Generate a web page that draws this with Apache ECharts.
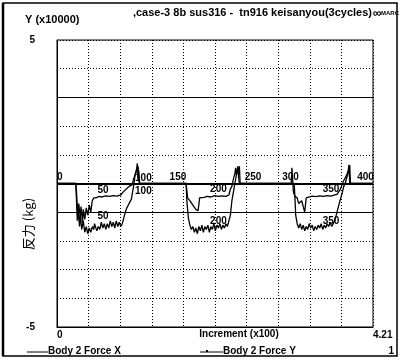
<!DOCTYPE html>
<html><head><meta charset="utf-8">
<script src="https://cdn.jsdelivr.net/npm/echarts@6/dist/echarts.min.js"></script>
<style>html,body{margin:0;padding:0;background:#fff}#c{width:400px;height:359px}</style>
</head><body><div id="c"></div>
<script>
// Increments (raw, x1) and forces (x10000)
var incX = [0,25,26,27,28,29,31,32,34,35,37,39,41,43,45,47,49,50,52,56,60,65,70,75,80,85,88,90,92,94,96,98,100,102,104,106,108,109,110,
  172,174,177,181,185,188,190,192,196,200,205,210,215,220,225,229,231,233,235,237,238,239,241,242,243,
  312,313,315,317,320,322,324,326,328,329,330,332,334,340,345,350,355,360,365,370,373,375,377,379,381,383,386,388,389,390,421];
var forceX = [0,0,-0.3,-0.8,-1.1,-0.7,-1.2,-0.8,-1.35,-0.9,-1.25,-0.85,-1.1,-0.75,-1.0,-0.6,-0.5,-0.48,-0.5,-0.45,-0.47,-0.43,-0.45,-0.42,-0.44,-0.4,-0.3,-0.35,-0.2,-0.2,-0.1,-0.08,-0.05,0.15,0.3,0.45,0.6,0.1,0,
  0,-0.5,-0.6,-0.75,-0.9,-0.95,-0.5,-0.45,-0.48,-0.45,-0.47,-0.42,-0.45,-0.43,-0.45,-0.4,-0.2,-0.1,0.15,0.35,0.55,0.3,0.6,0.2,0,
  0,0.55,-0.3,-0.45,-0.5,-0.7,-0.68,-0.6,-0.64,-0.9,-1.0,-0.5,-0.47,-0.44,-0.46,-0.43,-0.45,-0.42,-0.44,-0.4,-0.38,-0.3,-0.23,-0.1,0.05,0.15,0.3,0.45,0.65,0,0];
var incY = [0,25,26,27,28,30,31,33,35,37,39,41,43,45,47,49,50,51,53,55,57,59,61,63,65,67,69,71,73,75,77,79,81,83,85,87,89,91,93,95,97,99,100,102,104,106,107,108,109,110,
  172,173,175,177,179,181,183,185,187,189,191,193,195,197,199,200,201,203,205,207,209,211,213,215,217,219,221,223,225,227,229,231,233,235,237,239,241,243,244,
  316,317,318,320,322,324,326,328,330,332,334,336,338,340,342,344,346,348,350,352,354,356,358,360,362,364,366,368,370,372,374,377,380,382,384,386,388,390,391,421];
var forceY = [0,0,-0.6,-1.3,-0.9,-1.5,-1.1,-1.6,-1.3,-1.7,-1.5,-1.75,-1.55,-1.7,-1.5,-1.6,-1.4,-1.45,-1.65,-1.5,-1.6,-1.35,-1.55,-1.4,-1.6,-1.4,-1.55,-1.3,-1.5,-1.35,-1.55,-1.3,-1.5,-1.35,-1.5,-1.4,-1.2,-1.0,-0.85,-0.75,-0.65,-0.55,-0.5,-0.1,0.3,0.5,0.7,0.2,0.45,0,
  0,-0.6,-1.2,-1.45,-1.6,-1.5,-1.7,-1.55,-1.75,-1.5,-1.65,-1.45,-1.7,-1.5,-1.6,-1.55,-1.45,-1.7,-1.5,-1.6,-1.4,-1.65,-1.45,-1.55,-1.4,-1.6,-1.45,-1.55,-1.4,-1.5,-1.3,-1.1,-0.6,-0.3,0.0,0.3,0.45,0.6,0,
  0,-0.5,-1.1,-1.4,-1.55,-1.4,-1.6,-1.45,-1.65,-1.5,-1.6,-1.4,-1.55,-1.45,-1.65,-1.5,-1.6,-1.45,-1.55,-1.4,-1.6,-1.45,-1.55,-1.4,-1.5,-1.35,-1.5,-1.4,-1.3,-1.1,-0.9,-0.6,-0.33,-0.1,0.0,0.2,0.37,0.64,0,0];
// Increment labels drawn along each curve
var labelsX = [0,50,100,150,200,250,300,350,400];
var labelsY = [50,100,200,350];
var yTickLabels = ['-5','5'];
var xTickLabels = ['0','4.21'];
var titleText = ',case-3 8b sus316 -  tn916 keisanyou(3cycles)';
var legendNames = ['Body 2 Force X','Body 2 Force Y'];

var FONT = '"Liberation Sans", Arial, sans-serif';
function pts(inc, val){ return inc.map(function(v,i){ return [v/100, val[i]]; }); }
function valueAt(inc, val, k){ var r = 0; for (var i=0;i<inc.length;i++){ if (inc[i] <= k) r = val[i]; } return r; }
function marks(inc, val, list){
  return list.map(function(k){
    var v = valueAt(inc, val, k);
    var flat = Math.abs(v) < 0.03;
    return { coord:[k/100, v], value: String(k),
      label:{ show:true, formatter:String(k), position: flat ? [0,-11] : [3,-12],
        align:'left', verticalAlign:'top', color:'#000', fontFamily:FONT, fontWeight:'bold', fontSize:10 } };
  });
}
var chart = echarts.init(document.getElementById('c'), null, {renderer:'canvas'});
chart.setOption({
  backgroundColor:'#fff',
  animation:false,
  grid:{left:57, right:27, top:40, bottom:32, show:true, borderColor:'#000', borderWidth:1, backgroundColor:'transparent'},
  xAxis:{type:'value', min:0, max:4.21, interval:0.421,
    axisLine:{show:true, onZero:false, lineStyle:{color:'#000'}}, axisTick:{show:false},
    splitLine:{show:true, lineStyle:{color:'#000', type:[1,2], width:1}},
    axisLabel:{show:true, showMinLabel:true, showMaxLabel:true, align:'left', margin:3, color:'#000', fontFamily:FONT, fontWeight:'bold', fontSize:10,
      formatter:function(v){ if (Math.abs(v) < 1e-6) return xTickLabels[0]; if (Math.abs(v-4.21) < 1e-6) return xTickLabels[1]; return ''; } }},
  yAxis:{type:'value', min:-5, max:5, interval:1,
    axisLine:{show:true, lineStyle:{color:'#000'}}, axisTick:{show:false},
    splitLine:{show:true, lineStyle:{color:'#000', type:[1,2], width:1}},
    axisLabel:{margin:22, color:'#000', fontFamily:FONT, fontWeight:'bold', fontSize:10,
      formatter:function(v){ if (v === -5) return yTickLabels[0]; if (v === 5) return yTickLabels[1]; return ''; } }},
  series:[
    {name:legendNames[0], type:'line', data:pts(incX, forceX), symbol:'none', lineStyle:{color:'#000', width:1.3},
     markLine:{silent:true, symbol:'none', label:{show:false},
       data:[{yAxis:0, lineStyle:{color:'#000', width:2.2, type:'solid'}},
             {yAxis:3, lineStyle:{color:'#000', width:1, type:'solid'}},
             {yAxis:-1, lineStyle:{color:'#000', width:1, type:'solid'}}]},
     markPoint:{symbol:'circle', symbolSize:0, data:marks(incX, forceX, labelsX)}},
    {name:legendNames[1], type:'line', data:pts(incY, forceY), symbol:'none', lineStyle:{color:'#000', width:1.3},
     markPoint:{symbol:'circle', symbolSize:0, data:marks(incY, forceY, labelsY)}}
  ],
  graphic:[
    {type:'rect', shape:{x:3, y:3, width:394, height:353}, style:{fill:'none', stroke:'#000', lineWidth:1.5}, silent:true},
    {type:'line', shape:{x1:3, y1:3, x2:3, y2:356}, style:{stroke:'#000', lineWidth:2.5}},
    {type:'text', left:25, top:14, style:{text:'Y (x10000)', fill:'#000', font:'bold 11px '+FONT}},
    {type:'text', right:28, top:7, style:{text:titleText, fill:'#000', font:'bold 11px '+FONT}},
    {type:'text', x:373, y:8, style:{text:'\u221E', fill:'#000', font:'bold 12px '+FONT}},
    {type:'text', x:381, y:10, style:{text:'MARC', fill:'#000', font:'bold 6px '+FONT}},
    {type:'text', x:28, y:224, rotation:Math.PI/2, style:{text:'反力 (kg)', fill:'#000', font:'13px "Noto Sans CJK JP"', align:'center', verticalAlign:'middle'}},
    {type:'text', x:239, y:334, style:{text:'Increment (x100)', fill:'#000', font:'bold 10px '+FONT, align:'center', verticalAlign:'middle'}},
    {type:'line', shape:{x1:27, y1:352, x2:48, y2:352}, style:{stroke:'#000', lineWidth:1}},
    {type:'text', x:48, y:351, style:{text:legendNames[0], fill:'#000', font:'bold 10px '+FONT, verticalAlign:'middle'}},
    {type:'line', shape:{x1:200, y1:352, x2:223, y2:352}, style:{stroke:'#000', lineWidth:1}},
    {type:'rect', shape:{x:206, y:350, width:2, height:2}, style:{fill:'#000'}},
    {type:'text', x:223, y:351, style:{text:legendNames[1], fill:'#000', font:'bold 10px '+FONT, verticalAlign:'middle'}},
    {type:'text', x:394, y:351, style:{text:'1', fill:'#000', font:'bold 10px '+FONT, align:'right', verticalAlign:'middle'}}
  ]
});
</script></body></html>
